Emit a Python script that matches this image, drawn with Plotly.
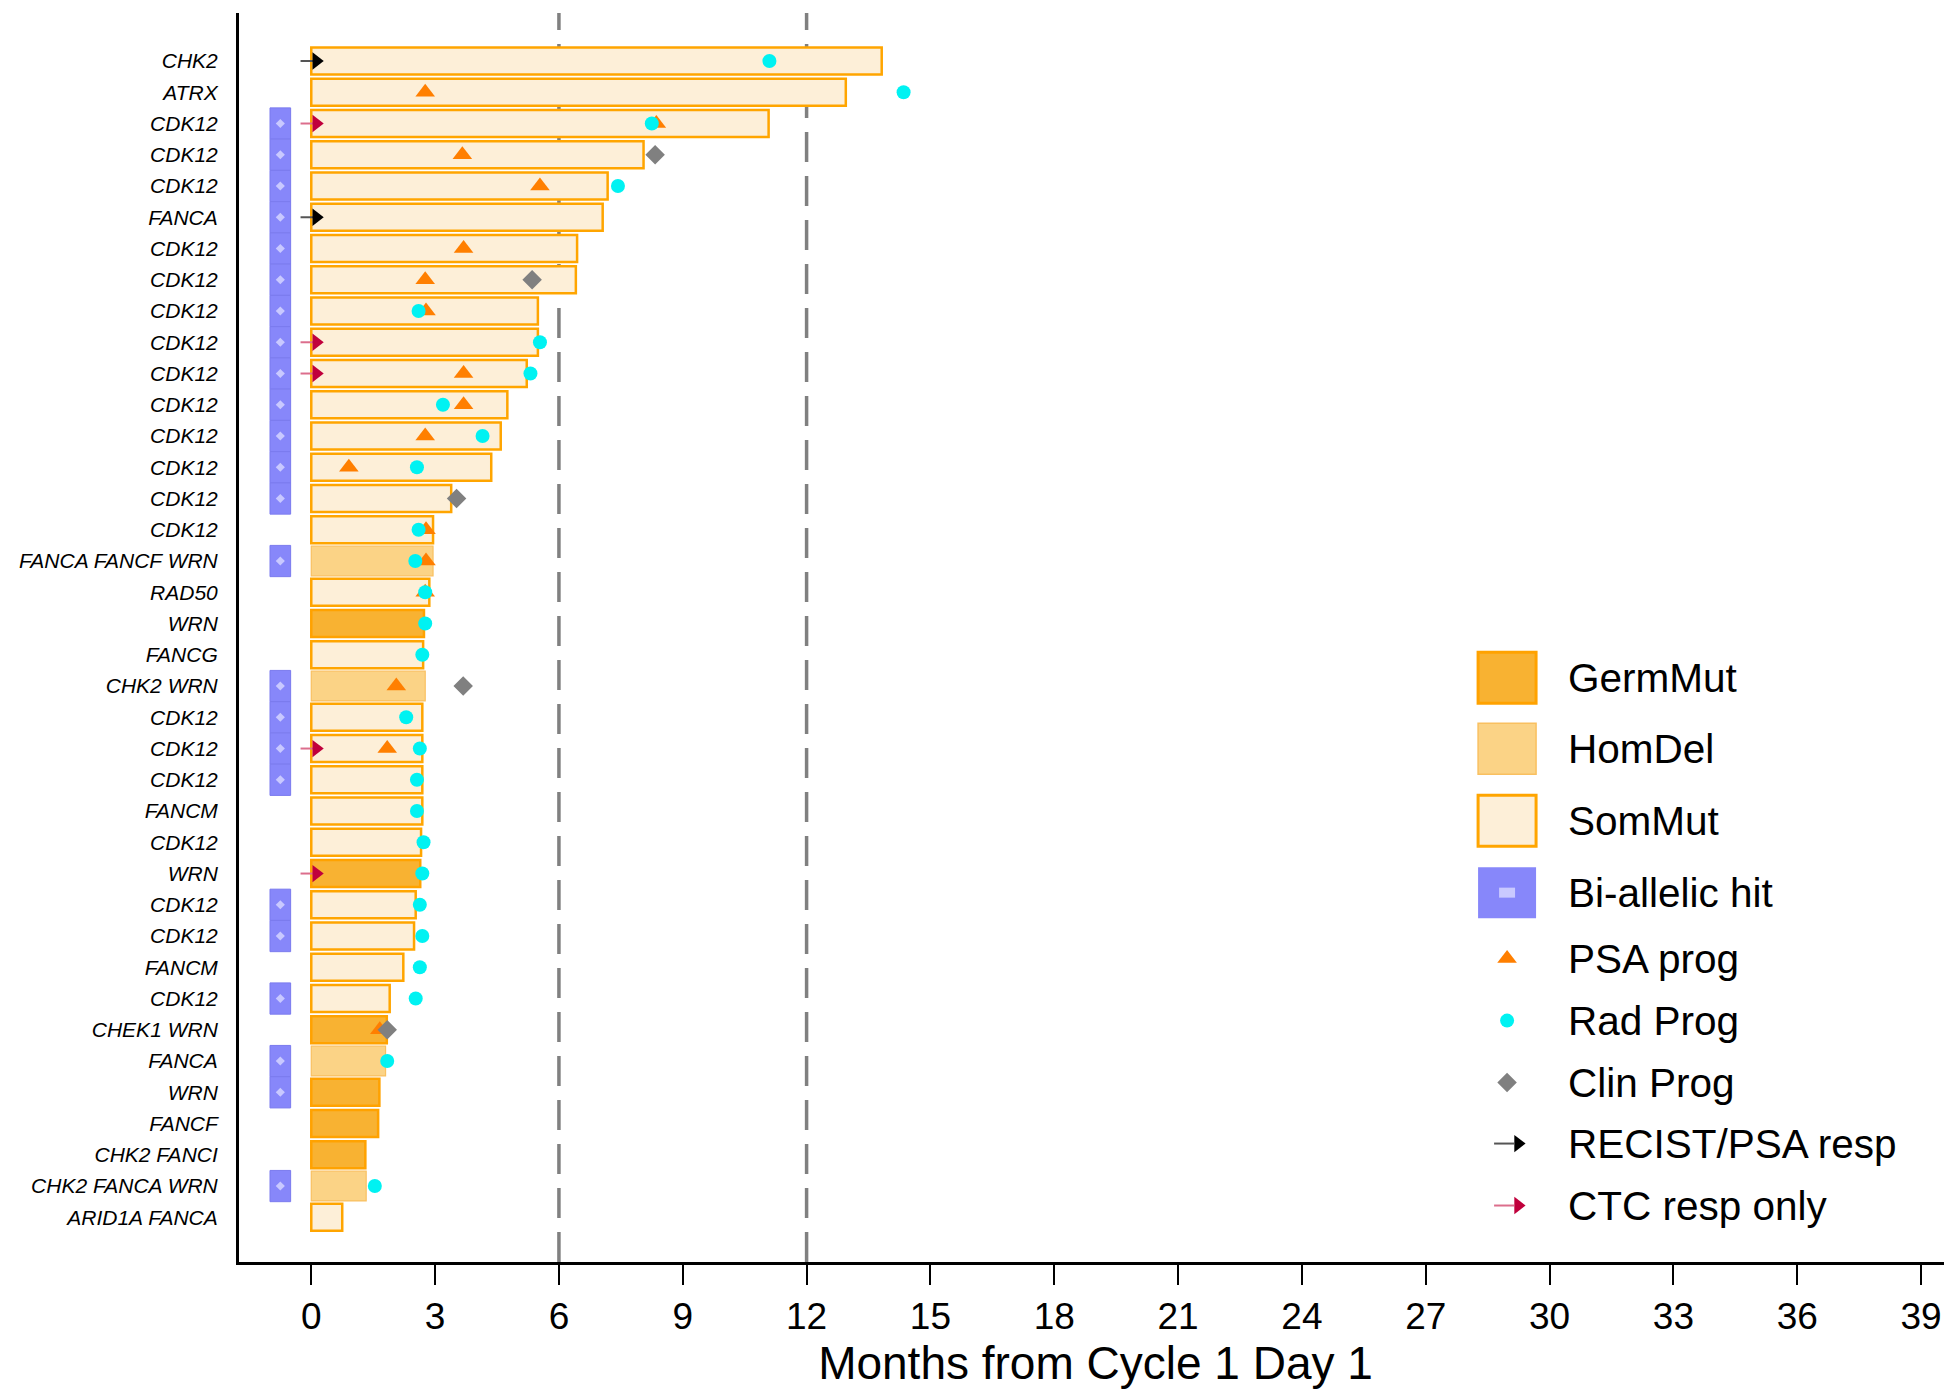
import plotly.graph_objects as go

# ---------------- data ----------------
genes = ["CHK2", "ATRX", "CDK12", "CDK12", "CDK12", "FANCA", "CDK12", "CDK12",
         "CDK12", "CDK12", "CDK12", "CDK12", "CDK12", "CDK12", "CDK12", "CDK12",
         "FANCA FANCF WRN", "RAD50", "WRN", "FANCG", "CHK2 WRN", "CDK12", "CDK12",
         "CDK12", "FANCM", "CDK12", "WRN", "CDK12", "CDK12", "FANCM", "CDK12",
         "CHEK1 WRN", "FANCA", "WRN", "FANCF", "CHK2 FANCI", "CHK2 FANCA WRN",
         "ARID1A FANCA"]

months_on_treatment = [13.82, 12.95, 11.08, 8.05, 7.18, 7.06, 6.44, 6.41, 5.49, 5.49,
                       5.22, 4.75, 4.59, 4.36, 3.39, 2.95, 2.95, 2.86, 2.73, 2.71,
                       2.76, 2.69, 2.69, 2.69, 2.69, 2.66, 2.64, 2.53, 2.49, 2.23,
                       1.90, 1.83, 1.80, 1.65, 1.62, 1.31, 1.33, 0.75]

alteration = ["SomMut", "SomMut", "SomMut", "SomMut", "SomMut", "SomMut", "SomMut", "SomMut",
              "SomMut", "SomMut", "SomMut", "SomMut", "SomMut", "SomMut", "SomMut", "SomMut",
              "HomDel", "SomMut", "GermMut", "SomMut", "HomDel", "SomMut", "SomMut",
              "SomMut", "SomMut", "SomMut", "GermMut", "SomMut", "SomMut", "SomMut", "SomMut",
              "GermMut", "HomDel", "GermMut", "GermMut", "GermMut", "HomDel", "SomMut"]

biallelic = [0, 0, 1, 1, 1, 1, 1, 1, 1, 1, 1, 1, 1, 1, 1, 0, 1, 0, 0, 0,
             1, 1, 1, 1, 0, 0, 0, 1, 1, 0, 1, 0, 1, 1, 0, 0, 1, 0]

psa_prog = [None, 2.76, 8.36, 3.66, 5.54, None, 3.69, 2.76, 2.78, None,
            3.69, 3.69, 2.76, 0.91, None, 2.78, 2.78, 2.76, None, None,
            2.06, None, 1.84, None, None, None, None, None, None, None,
            None, 1.66, None, None, None, None, None, None]

rad_prog = [11.10, 14.35, 8.25, None, 7.43, None, None, None, 2.60, 5.54,
            5.31, 3.19, 4.15, 2.56, None, 2.60, 2.52, 2.76, 2.76, 2.69,
            None, 2.30, 2.63, 2.56, 2.56, 2.72, 2.69, 2.63, 2.69, 2.63,
            2.53, None, 1.84, None, None, None, 1.54, None]

clin_prog = [None, None, None, 8.33, None, None, None, 5.35, None, None,
             None, None, None, None, 3.52, None, None, None, None, None,
             3.68, None, None, None, None, None, None, None, None, None,
             None, 1.84, None, None, None, None, None, None]

recist_psa_resp = [1, 0, 0, 0, 0, 1, 0, 0, 0, 0, 0, 0, 0, 0, 0, 0, 0, 0, 0, 0,
                   0, 0, 0, 0, 0, 0, 0, 0, 0, 0, 0, 0, 0, 0, 0, 0, 0, 0]
ctc_resp_only = [0, 0, 1, 0, 0, 0, 0, 0, 0, 1, 1, 0, 0, 0, 0, 0, 0, 0, 0, 0,
                 0, 0, 1, 0, 0, 0, 1, 0, 0, 0, 0, 0, 0, 0, 0, 0, 0, 0]

x_ticks = list(range(0, 40, 3))
cutoff_lines = [6, 12]
legend_labels = ["GermMut", "HomDel", "SomMut", "Bi-allelic hit", "PSA prog",
                 "Rad Prog", "Clin Prog", "RECIST/PSA resp", "CTC resp only"]

# ---------------- layout constants ----------------
OFF = 8  # page body margin
PAGE_W, PAGE_H = 1952, 1394
W, H = PAGE_W - OFF, PAGE_H - OFF
L, R, T, B = 238.7 - OFF, 0, 13 - OFF, 131.5
XR = [-1.751, 39.75]
YR = [38.43, -1.536]
PW, PH = W - L - R, H - T - B

FONT = "Arial, Liberation Sans, sans-serif"

STYLE = {
    "GermMut": dict(fill="#F8B232", line="#FFA200", lw=2.5, width=0.86),
    "HomDel": dict(fill="#FBD386", line="#F9C060", lw=1.2, width=0.95),
    "SomMut": dict(fill="#FDEFD8", line="#FFA500", lw=2.5, width=0.86),
}
BI_COLOR = "#8787FA"
BI_DOT = "#C9C9FF"
PSA_COLOR = "#FF7F00"
RAD_COLOR = "#00F2F2"
CLIN_COLOR = "#808080"
RECIST_HEAD, RECIST_LINE = "#000000", "#555555"
CTC_HEAD, CTC_LINE = "#C0003C", "#DC6E8C"


# helpers converting page pixel positions to figure coordinates
def px2x(px):
    return XR[0] + (px - OFF - L) / PW * (XR[1] - XR[0])


def py2y(py):
    return YR[1] + (py - OFF - T) / PH * (YR[0] - YR[1])


def ppx(px):
    return (px - OFF - L) / PW


def ppy(py):
    return (H - B - (py - OFF)) / PH


rows = list(range(len(genes)))
fig = go.Figure()

# bi-allelic boxes
bi_rows = [i for i in rows if biallelic[i]]
fig.add_trace(go.Bar(
    orientation="h", y=bi_rows, x=[0.5] * len(bi_rows), base=[-1.0] * len(bi_rows),
    width=1.0, marker=dict(color=BI_COLOR, line=dict(color="#7B7BEE", width=1)),
    hoverinfo="skip"))
fig.add_trace(go.Scatter(
    x=[-0.75] * len(bi_rows), y=bi_rows, mode="markers",
    marker=dict(symbol="diamond", size=7, color=BI_DOT), hoverinfo="skip"))

# treatment bars
for kind in ["SomMut", "HomDel", "GermMut"]:
    idx = [i for i in rows if alteration[i] == kind]
    st = STYLE[kind]
    fig.add_trace(go.Bar(
        orientation="h", y=idx, x=[months_on_treatment[i] for i in idx],
        base=[0] * len(idx), width=st["width"], name=kind,
        marker=dict(color=st["fill"], line=dict(color=st["line"], width=st["lw"]))))


# response arrows
def add_arrows(flags, head_color, line_color):
    idx = [i for i in rows if flags[i]]
    xs, ys = [], []
    for i in idx:
        xs += [-0.26, 0.08, None]
        ys += [i, i, None]
    fig.add_trace(go.Scatter(x=xs, y=ys, mode="lines",
                             line=dict(color=line_color, width=2), hoverinfo="skip"))
    fig.add_trace(go.Scatter(x=[0.12] * len(idx), y=idx, mode="markers",
                             marker=dict(symbol="triangle-right", size=15, color=head_color),
                             hoverinfo="skip"))


add_arrows(recist_psa_resp, RECIST_HEAD, RECIST_LINE)
add_arrows(ctc_resp_only, CTC_HEAD, CTC_LINE)


def add_events(vals, symbol, size, color):
    idx = [i for i in rows if vals[i] is not None]
    fig.add_trace(go.Scatter(x=[vals[i] for i in idx], y=idx, mode="markers",
                             marker=dict(symbol=symbol, size=size, color=color),
                             hoverinfo="skip"))


add_events(psa_prog, "triangle-up", 17, PSA_COLOR)
add_events(rad_prog, "circle", 14, RAD_COLOR)
add_events(clin_prog, "diamond", 15, CLIN_COLOR)

# dashed reference lines
for xv in cutoff_lines:
    fig.add_shape(type="line", x0=xv, x1=xv, y0=0, y1=1, xref="x", yref="paper",
                  layer="below", line=dict(color="#808080", width=3.5, dash="30px,14px"))

# ---------------- custom legend ----------------
LEG_X = 1507
sq_w, sq_h = 58, 51
leg_y = [678, 749, 821, 893, 959, 1021, 1083, 1144, 1206]
box_styles = [STYLE["GermMut"], STYLE["HomDel"], STYLE["SomMut"]]
for k in range(3):
    st = box_styles[k]
    fig.add_shape(type="rect", xref="paper", yref="paper",
                  x0=ppx(LEG_X - sq_w / 2), x1=ppx(LEG_X + sq_w / 2),
                  y0=ppy(leg_y[k] - sq_h / 2), y1=ppy(leg_y[k] + sq_h / 2),
                  fillcolor=st["fill"], line=dict(color=st["line"], width=3 if k != 1 else 1.5))
fig.add_shape(type="rect", xref="paper", yref="paper",
              x0=ppx(LEG_X - sq_w / 2), x1=ppx(LEG_X + sq_w / 2),
              y0=ppy(leg_y[3] - sq_h / 2), y1=ppy(leg_y[3] + sq_h / 2),
              fillcolor=BI_COLOR, line=dict(width=0))
fig.add_shape(type="rect", xref="paper", yref="paper",
              x0=ppx(LEG_X - 8), x1=ppx(LEG_X + 8),
              y0=ppy(leg_y[3] - 5), y1=ppy(leg_y[3] + 5),
              fillcolor=BI_DOT, line=dict(width=0))

fig.add_trace(go.Scatter(x=[px2x(LEG_X)], y=[py2y(leg_y[4])], mode="markers",
                         marker=dict(symbol="triangle-up", size=17, color=PSA_COLOR),
                         hoverinfo="skip"))
fig.add_trace(go.Scatter(x=[px2x(LEG_X)], y=[py2y(leg_y[5])], mode="markers",
                         marker=dict(symbol="circle", size=14, color=RAD_COLOR),
                         hoverinfo="skip"))
fig.add_trace(go.Scatter(x=[px2x(LEG_X)], y=[py2y(leg_y[6])], mode="markers",
                         marker=dict(symbol="diamond", size=15, color=CLIN_COLOR),
                         hoverinfo="skip"))
for k, (hc, lc) in zip([7, 8], [(RECIST_HEAD, RECIST_LINE), (CTC_HEAD, CTC_LINE)]):
    fig.add_trace(go.Scatter(x=[px2x(1494), px2x(1514)], y=[py2y(leg_y[k])] * 2,
                             mode="lines", line=dict(color=lc, width=2), hoverinfo="skip"))
    fig.add_trace(go.Scatter(x=[px2x(1518)], y=[py2y(leg_y[k])], mode="markers",
                             marker=dict(symbol="triangle-right", size=15, color=hc),
                             hoverinfo="skip"))

for k, lab in enumerate(legend_labels):
    fig.add_annotation(x=ppx(1566), y=ppy(leg_y[k]), xref="paper", yref="paper",
                       text=lab, showarrow=False, xanchor="left", yanchor="middle",
                       font=dict(family=FONT, size=40.5, color="black"))

# ---------------- axes ----------------
fig.update_layout(
    width=W, height=H,
    margin=dict(l=L, r=R, t=T, b=B, pad=0),
    paper_bgcolor="white", plot_bgcolor="white",
    showlegend=False, barmode="overlay",
    font=dict(family=FONT, color="black"),
)
fig.update_xaxes(
    range=XR, tickvals=x_ticks, ticktext=[str(v) for v in x_ticks],
    ticks="outside", ticklen=20, tickwidth=2, tickcolor="black",
    showline=True, linewidth=3, linecolor="black",
    showgrid=False, zeroline=False,
    tickfont=dict(family=FONT, size=37, color="black"),
    title=dict(text="Months from Cycle 1 Day 1", standoff=2,
               font=dict(family=FONT, size=46, color="black")),
)
fig.update_yaxes(
    range=YR, tickvals=rows, ticktext=genes,
    ticks="", showline=True, linewidth=3, linecolor="black",
    showgrid=False, zeroline=False, ticklabelstandoff=14,
    tickfont=dict(family=FONT, size=21, color="black", style="italic"),
)

fig.write_html("out.html")
